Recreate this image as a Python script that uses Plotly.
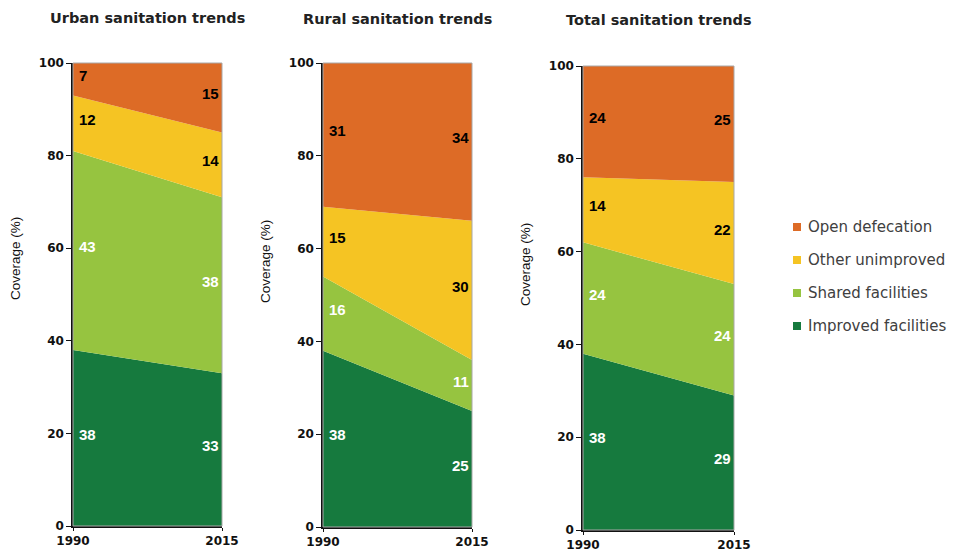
import plotly.graph_objects as go

# Sanitation coverage (%) by facility type, 1990 and 2015
years = [1990, 2015]
categories = ["Improved facilities", "Shared facilities", "Other unimproved", "Open defecation"]
colors = ["#167A3E", "#96C440", "#F5C423", "#DD6B26"]
label_colors = ["white", "white", "black", "black"]

urban = {
    "Improved facilities": [38, 33],
    "Shared facilities": [43, 38],
    "Other unimproved": [12, 14],
    "Open defecation": [7, 15],
}
rural = {
    "Improved facilities": [38, 25],
    "Shared facilities": [16, 11],
    "Other unimproved": [15, 30],
    "Open defecation": [31, 34],
}
total = {
    "Improved facilities": [38, 29],
    "Shared facilities": [24, 24],
    "Other unimproved": [14, 22],
    "Open defecation": [24, 25],
}

panels = [
    ("Urban sanitation trends", urban),
    ("Rural sanitation trends", rural),
    ("Total sanitation trends", total),
]

W, H = 954, 552
# plot-area pixel boxes (left, right, top, bottom)
boxes = [(73, 222, 63, 526), (323, 472, 63, 527), (583, 734, 66, 530)]
# y-axis title positions (x centre, y centre) in pixels
ytitle_pos = [(15, 259), (265, 262), (525, 265)]

fig = go.Figure()
annotations = []
shapes = []

for i, ((title, data), (l, r, t, b), (tx, ty)) in enumerate(zip(panels, boxes, ytitle_pos)):
    n = "" if i == 0 else str(i + 1)
    xa, ya = "x" + n, "y" + n
    cum = [0, 0]
    for cat, col, lc in zip(categories, colors, label_colors):
        vals = data[cat]
        fig.add_trace(go.Scatter(
            x=years, y=vals, xaxis=xa, yaxis=ya,
            stackgroup="s" + str(i), mode="lines",
            line=dict(width=0, color=col), fillcolor=col,
            showlegend=False, hoverinfo="x+y+name", name=cat,
        ))
        for k, (yr, v) in enumerate(zip(years, vals)):
            annotations.append(dict(
                x=yr, y=cum[k] + v / 2, xref=xa, yref=ya,
                text=f"<b>{v}</b>", showarrow=False,
                xanchor="left" if k == 0 else "right",
                xshift=4 if k == 0 else -1, yshift=4,
                font=dict(family="Liberation Sans, Arial", size=15, color=lc),
            ))
            cum[k] += v
    # faint frame on the top and right edges of each panel
    shapes.append(dict(type="rect", xref=xa + " domain", yref=ya + " domain",
                       x0=0, x1=1, y0=0, y1=1, line=dict(color="#A8A8A8", width=1),
                       layer="above"))
    dom_x = [l / W, r / W]
    dom_y = [1 - b / H, 1 - t / H]
    axis_common = dict(showgrid=False, zeroline=False, showline=True, automargin=False,
                       linecolor="#111", linewidth=1.5, ticks="outside",
                       tickcolor="#111",
                       tickfont=dict(family="DejaVu Sans", size=12, color="#111", weight="bold"))
    fig.update_layout(**{
        "xaxis" + n: dict(domain=dom_x, range=[1990, 2015], tickvals=years,
                          anchor=ya, ticklen=3, **axis_common),
        "yaxis" + n: dict(domain=dom_y, range=[0, 100], tickvals=[0, 20, 40, 60, 80, 100],
                          anchor=xa, ticklen=5, **axis_common),
    })
    annotations.append(dict(
        x=tx / W, y=1 - ty / H, xref="paper", yref="paper", text="Coverage (%)",
        textangle=-90, showarrow=False, xanchor="center", yanchor="middle",
        font=dict(family="Liberation Sans, Arial", size=13.5, color="#111"),
    ))
    annotations.append(dict(
        x=(l + r) / 2 / W, y=1 - (18 + i) / H, xref="paper", yref="paper",
        text=f"<b>{title}</b>", showarrow=False, xanchor="center", yanchor="middle",
        font=dict(family="DejaVu Sans", size=14.5, color="#222"),
    ))

# legend: top-to-bottom order from the top of the stack
leg_y = [227, 260, 293, 326]
for cat, col, yy in zip(categories[::-1], colors[::-1], leg_y):
    shapes.append(dict(type="rect", xref="paper", yref="paper",
                       x0=793 / W, x1=801 / W, y0=1 - (yy + 4) / H, y1=1 - (yy - 4) / H,
                       fillcolor=col, line=dict(width=0)))
    annotations.append(dict(
        x=806 / W, y=1 - yy / H, xref="paper", yref="paper", text=cat,
        showarrow=False, xanchor="left", yanchor="middle",
        font=dict(family="DejaVu Sans", size=15, color="#404040"),
    ))

fig.update_layout(
    width=W, height=H, margin=dict(l=0, r=0, t=0, b=0),
    paper_bgcolor="white", plot_bgcolor="white",
    annotations=annotations, shapes=shapes, showlegend=False,
)

fig.write_html("out.html")
